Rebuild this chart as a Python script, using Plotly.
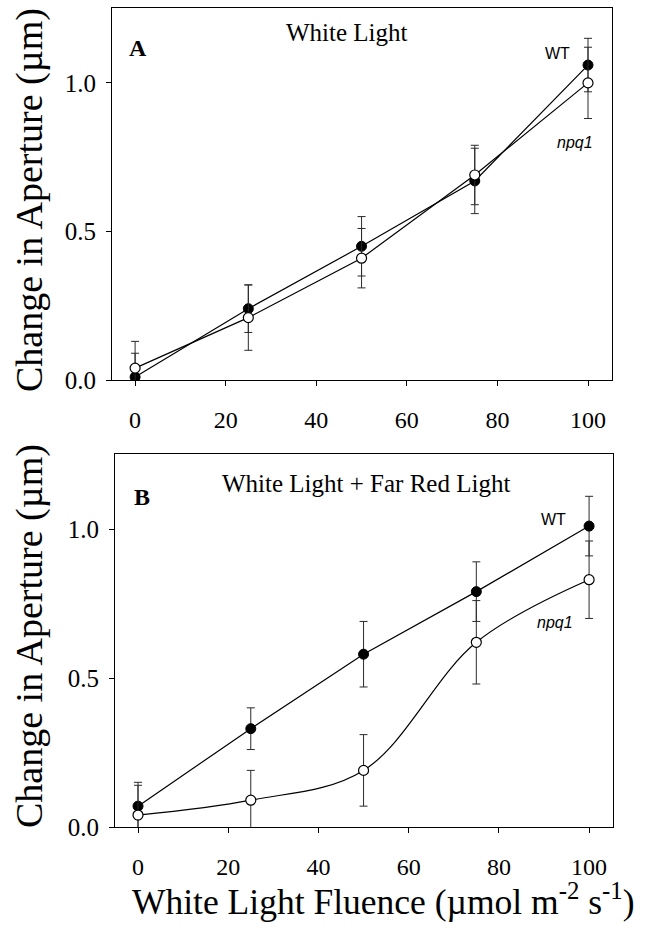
import plotly.graph_objects as go

# Fluence levels (µmol m-2 s-1)
fluence = [0, 25, 50, 75, 100]

# Panel A: white light only
wl_wt = [0.01, 0.24, 0.45, 0.67, 1.06]
wl_wt_err = [0.08, 0.08, 0.10, 0.11, 0.09]
wl_npq1 = [0.04, 0.21, 0.41, 0.69, 1.00]
wl_npq1_err = [0.09, 0.11, 0.10, 0.10, 0.12]

# Panel B: white light + far red light
fr_wt = [0.07, 0.33, 0.58, 0.79, 1.01]
fr_wt_err = [0.08, 0.07, 0.11, 0.10, 0.10]
fr_npq1 = [0.04, 0.09, 0.19, 0.62, 0.83]
fr_npq1_err = [0.10, 0.10, 0.12, 0.14, 0.13]

x_ticks = [0, 20, 40, 60, 80, 100]
y_ticks = [0.0, 0.5, 1.0]
y_tick_text = ["0.0", "0.5", "1.0"]

W, H = 660, 934
SERIF = "Liberation Serif, Times New Roman, serif"
SANS = "Liberation Sans, Arial, sans-serif"


def err(vals):
    return dict(type="data", array=vals, visible=True, color="#2a2a2a",
                thickness=1, width=4)


def wt_trace(y, e, xa, ya, shape="linear"):
    return go.Scatter(x=fluence, y=y, error_y=err(e), mode="lines+markers",
                      line=dict(color="black", width=1.2, shape=shape),
                      marker=dict(size=10, color="black",
                                  line=dict(color="black", width=1)),
                      xaxis=xa, yaxis=ya, showlegend=False)


def npq_trace(y, e, xa, ya, shape="linear"):
    return go.Scatter(x=fluence, y=y, error_y=err(e), mode="lines+markers",
                      line=dict(color="black", width=1.2, shape=shape,
                                smoothing=1.0),
                      marker=dict(size=10, color="white",
                                  line=dict(color="black", width=1.2)),
                      xaxis=xa, yaxis=ya, showlegend=False)


fig = go.Figure()
fig.add_trace(wt_trace(wl_wt, wl_wt_err, "x", "y"))
fig.add_trace(npq_trace(wl_npq1, wl_npq1_err, "x", "y"))
fig.add_trace(wt_trace(fr_wt, fr_wt_err, "x2", "y2"))
fig.add_trace(npq_trace(fr_npq1, fr_npq1_err, "x2", "y2", shape="spline"))

xcommon = dict(range=[-5.1, 105.3], tickvals=x_ticks, ticks="outside",
               ticklen=5, tickwidth=1, tickcolor="black", showline=True,
               linecolor="black", linewidth=1, mirror=True, showgrid=False,
               zeroline=False, ticklabelstandoff=13,
               tickfont=dict(family=SERIF, size=24, color="black"))
ycommon = dict(range=[0, 1.252], tickvals=y_ticks, ticktext=y_tick_text,
               ticks="outside", ticklen=5, tickwidth=1, tickcolor="black",
               showline=True, linecolor="black", linewidth=1, mirror=True,
               showgrid=False, zeroline=False, ticklabelstandoff=5,
               tickfont=dict(family=SERIF, size=25, color="black"))

fig.update_layout(
    width=W, height=H, template="none",
    margin=dict(l=0, r=0, t=0, b=0),
    paper_bgcolor="white", plot_bgcolor="white",
    xaxis=dict(domain=[112 / W, 612 / W], anchor="y", **xcommon),
    yaxis=dict(domain=[1 - 380 / H, 1 - 8 / H], anchor="x", **ycommon),
    xaxis2=dict(domain=[115 / W, 613 / W], anchor="y2", **xcommon),
    yaxis2=dict(domain=[1 - 827 / H, 1 - 454 / H], anchor="x2", **ycommon),
)

BLACK = "black"
ann = []
# Panel letters and headings
ann.append(dict(text="<b>A</b>", xref="x domain", yref="y domain", x=0.03,
                y=0.933, showarrow=False,
                font=dict(family=SERIF, size=24, color=BLACK)))
ann.append(dict(text="White Light", xref="x", yref="y", x=46.8, y=1.168,
                showarrow=False, font=dict(family=SERIF, size=25, color=BLACK)))
ann.append(dict(text="<b>B</b>", xref="x2 domain", yref="y2 domain", x=0.034,
                y=0.925, showarrow=False,
                font=dict(family=SERIF, size=24, color=BLACK)))
ann.append(dict(text="White Light + Far Red Light", xref="x2", yref="y2",
                x=50.6, y=1.154, showarrow=False,
                font=dict(family=SERIF, size=25, color=BLACK)))
# Series labels
ann.append(dict(text="WT", xref="x", yref="y", x=93.2, y=1.10,
                showarrow=False, font=dict(family=SANS, size=16, color=BLACK)))
ann.append(dict(text="<i>npq1</i>", xref="x", yref="y", x=97.1, y=0.80,
                showarrow=False, font=dict(family=SANS, size=16, color=BLACK)))
ann.append(dict(text="WT", xref="x2", yref="y2", x=92.1, y=1.033,
                showarrow=False, font=dict(family=SANS, size=16, color=BLACK)))
ann.append(dict(text="<i>npq1</i>", xref="x2", yref="y2", x=92.5, y=0.686,
                showarrow=False, font=dict(family=SANS, size=16, color=BLACK)))
# Axis titles
for yc in (200, 636):
    ann.append(dict(text="Change in Aperture (\u00b5m)", xref="paper",
                    yref="paper", x=29 / W, y=1 - yc / H, textangle=-90,
                    showarrow=False, xanchor="center", yanchor="middle",
                    font=dict(family=SERIF, size=38, color=BLACK)))
ann.append(dict(text="White Light Fluence (\u00b5mol m<sup>-2</sup> s<sup>-1</sup>)",
                xref="paper", yref="paper", x=383 / W, y=1 - 899 / H,
                showarrow=False, xanchor="center", yanchor="middle",
                font=dict(family=SERIF, size=35.5, color=BLACK)))
fig.update_layout(annotations=ann)

fig.write_html("out.html")
